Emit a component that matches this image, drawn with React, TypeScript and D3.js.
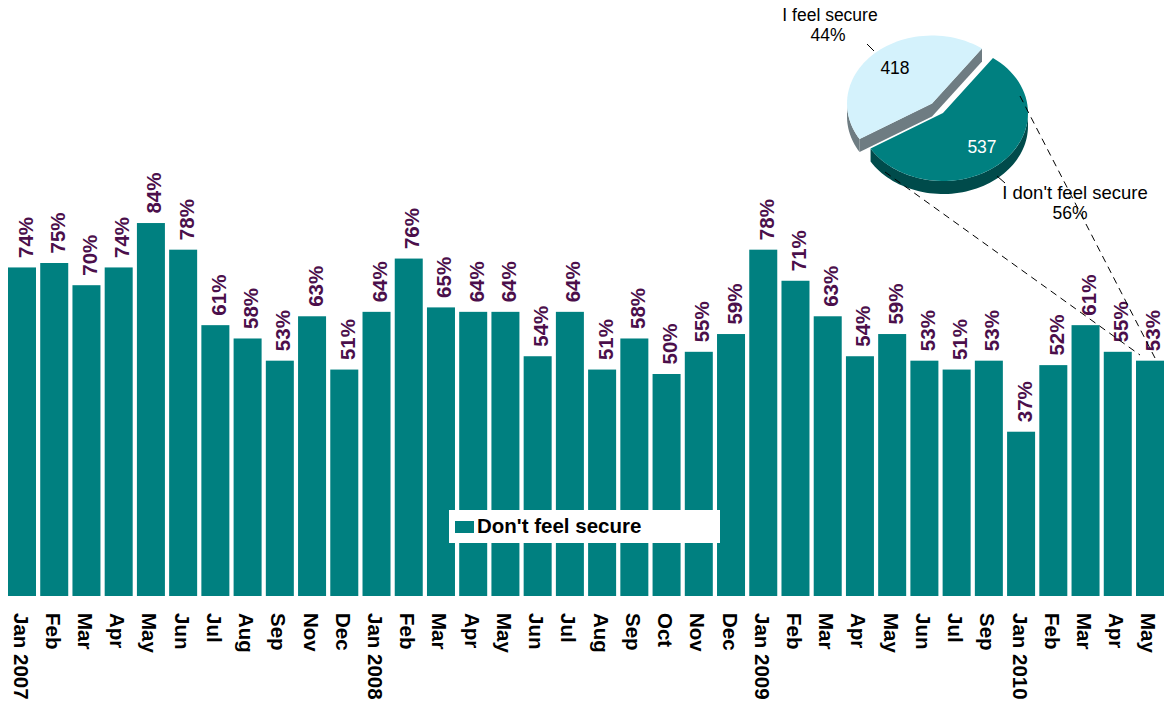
import React from "react";
import * as d3 from "d3";

const categories = [
  "Jan 2007", "Feb", "Mar", "Apr", "May", "Jun", "Jul", "Aug", "Sep", "Nov", "Dec",
  "Jan 2008", "Feb", "Mar", "Apr", "May", "Jun", "Jul", "Aug", "Sep", "Oct", "Nov", "Dec",
  "Jan 2009", "Feb", "Mar", "Apr", "May", "Jun", "Jul", "Sep",
  "Jan 2010", "Feb", "Mar", "Apr", "May",
];
const values = [
  74, 75, 70, 74, 84, 78, 61, 58, 53, 63, 51,
  64, 76, 65, 64, 64, 54, 64, 51, 58, 50, 55, 59,
  78, 71, 63, 54, 59, 53, 51, 53,
  37, 52, 61, 55, 53,
];
const legendLabel = "Don't feel secure";

const pieNames = ["I don't feel secure", "I feel secure"];
const pieCounts = [537, 418];
const piePercents = ["56%", "44%"];

const W = 1167;
const H = 705;
const FONT = "'Liberation Sans', Arial, Helvetica, sans-serif";

const TEAL = "#008080";
const LABEL = "#4B0F4B";

// pie geometry
const PC: [number, number] = [943, 113];
const RX = 85;
const RY = 68;
const DEPTH = 13;
const EXPLODE = [0, 0.19];
const pieTop = ["#008080", "#D4F2FC"];
const pieSide = ["#004B4B", "#6E7C82"];
const pieText = ["#FFFFFF", "#000000"];

export default function App() {
  const x = d3
    .scaleBand<number>()
    .domain(d3.range(categories.length))
    .range([6, 1166])
    .paddingInner(0.131)
    .paddingOuter(0.062);
  const y = d3.scaleLinear().domain([0, 100]).range([596, 152]);
  const bw = x.bandwidth();

  const arcs = d3
    .pie<number>()
    .sort(null)
    .startAngle((36 * Math.PI) / 180)
    .endAngle((36 * Math.PI) / 180 + 2 * Math.PI)(pieCounts);

  const line = d3.line();

  const slices = arcs.map((a, i) => {
    const p0 = a.startAngle - Math.PI / 2;
    const p1 = a.endAngle - Math.PI / 2;
    const mid = (p0 + p1) / 2;
    const c: [number, number] = [
      PC[0] + RX * EXPLODE[i] * Math.cos(mid),
      PC[1] + RY * EXPLODE[i] * Math.sin(mid),
    ];
    const pt = (t: number, dy = 0): [number, number] => [
      c[0] + RX * Math.cos(t),
      c[1] + RY * Math.sin(t) + dy,
    ];
    const arcPts = (t0: number, t1: number, dy = 0) =>
      d3.range(61).map((k) => pt(t0 + ((t1 - t0) * k) / 60, dy));
    const top = line([c, ...arcPts(p0, p1), c])! + "Z";
    const sides: string[] = [];
    // outer visible faces (front half: angle within [0, PI] mod 2PI)
    for (const off of [-2 * Math.PI, 0, 2 * Math.PI]) {
      const a0 = Math.max(p0, off);
      const a1 = Math.min(p1, off + Math.PI);
      if (a1 > a0) {
        const pts = [...arcPts(a0, a1), ...arcPts(a1, a0, DEPTH)];
        sides.push(line(pts)! + "Z");
      }
    }
    // radial faces
    const radial = (t: number) => {
      const e = pt(t);
      return line([c, e, [e[0], e[1] + DEPTH], [c[0], c[1] + DEPTH]])! + "Z";
    };
    const radials: string[] = [];
    if (Math.cos(p0) < 0) radials.push(radial(p0));
    if (Math.cos(p1) > 0) radials.push(radial(p1));
    return { c, top, sides, radials, mid, i };
  });

  // draw back slice (light blue) first
  const order = [1, 0];

  return (
    <svg
      width={W}
      height={H}
      style={{ position: "absolute", left: 0, top: 0, background: "#fff" }}
      fontFamily={FONT}
    >
      <rect x={0} y={0} width={W} height={H} fill="#fff" />
      {values.map((v, i) => (
        <rect key={"b" + i} x={x(i)} y={y(v)} width={bw} height={y(0) - y(v)} fill={TEAL} />
      ))}
      {values.map((v, i) => {
        const cx = (x(i) as number) + bw / 2 + 10.5;
        const cy = y(v) - 9.5;
        return (
          <text
            key={"v" + i}
            transform={`translate(${cx},${cy}) rotate(-90)`}
            fontSize={20.5}
            fontWeight="bold"
            fill={LABEL}
          >
            {v}%
          </text>
        );
      })}
      {categories.map((c, i) => {
        const cx = (x(i) as number) + bw / 2 - 8.5;
        return (
          <text
            key={"c" + i}
            transform={`translate(${cx},613) rotate(90)`}
            fontSize={20.5}
            fontWeight="bold"
            fill="#000"
          >
            {c}
          </text>
        );
      })}

      {/* legend */}
      <rect x={449} y={510} width={271} height={33} fill="#fff" />
      <rect x={455} y={521} width={19} height={12} fill={TEAL} />
      <text x={477} y={533} fontSize={20.5} fontWeight="bold" fill="#000">
        {legendLabel}
      </text>

      {/* pie */}
      {order.map((k) => {
        const s = slices[k];
        return (
          <g key={"s" + k}>
            {s.radials.map((d, j) => (
              <path key={"r" + j} d={d} fill={pieSide[k]} />
            ))}
            {s.sides.map((d, j) => (
              <path key={"o" + j} d={d} fill={pieSide[k]} />
            ))}
            <path d={s.top} fill={pieTop[k]} />
          </g>
        );
      })}
      <text x={895} y={74} fontSize={17.5} textAnchor="middle" fill={pieText[1]}>
        {pieCounts[1]}
      </text>
      <text x={982} y={153} fontSize={17.5} textAnchor="middle" fill={pieText[0]}>
        {pieCounts[0]}
      </text>

      {/* pie labels */}
      <text x={830} y={21} fontSize={17.5} textAnchor="middle" fill="#000">
        {pieNames[1]}
      </text>
      <text x={828} y={41} fontSize={17.5} textAnchor="middle" fill="#000">
        {piePercents[1]}
      </text>
      <text x={1075} y={199} fontSize={18.5} textAnchor="middle" fill="#000">
        {pieNames[0]}
      </text>
      <text x={1070} y={219} fontSize={17.5} textAnchor="middle" fill="#000">
        {piePercents[0]}
      </text>

      {/* leader and zoom lines */}
      <g stroke="#000" strokeWidth={1} fill="none">
        <line x1={867} y1={44} x2={874} y2={51} />
        <line x1={997} y1={176} x2={1005} y2={183} />
        <line x1={885} y1={172} x2={1140} y2={355} strokeDasharray="7,5" />
        <line x1={1020} y1={96} x2={1155} y2={358} strokeDasharray="7,5" />
      </g>
    </svg>
  );
}
